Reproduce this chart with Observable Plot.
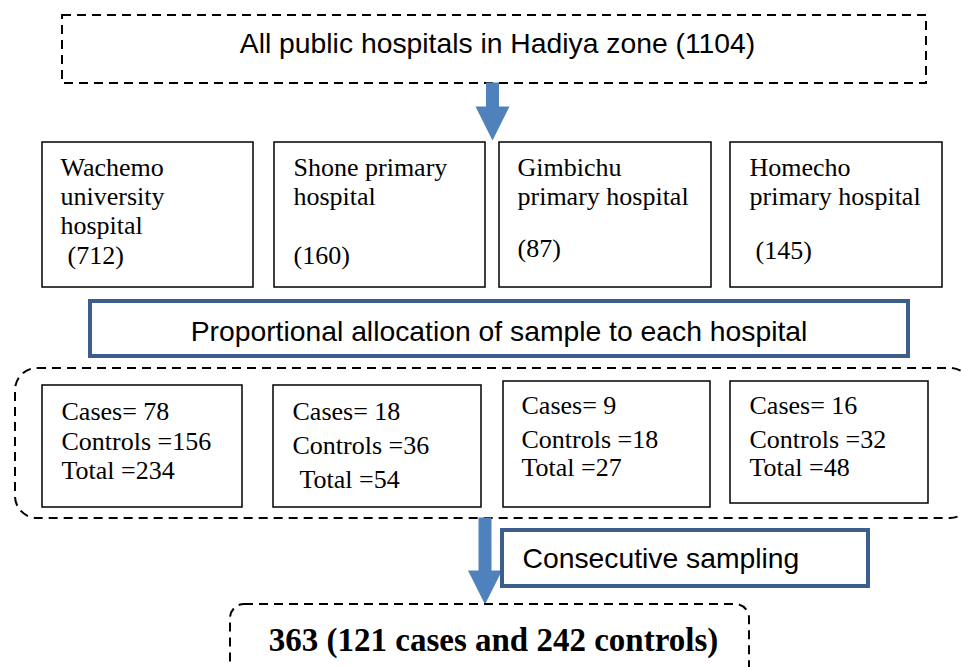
<!DOCTYPE html>
<html>
<head>
<meta charset="utf-8">
<script src="https://cdn.jsdelivr.net/npm/d3@7"></script>
<script src="https://cdn.jsdelivr.net/npm/@observablehq/plot@0.6"></script>
<style>
  html, body { margin: 0; padding: 0; background: white; overflow: hidden; }
  #chart svg { display: block; }
</style>
</head>
<body>
<div id="chart"></div>
<script>
// ---------- data ----------
const zoneName = "Hadiya zone";
const zonePopulation = 1104;
const hospitalNameLines = [
  ["Wachemo", "university", "hospital"],
  ["Shone primary", "hospital"],
  ["Gimbichu", "primary hospital"],
  ["Homecho", "primary hospital"]
];
const hospitalPopulations = [712, 160, 87, 145];
const allocationLabel = "Proportional allocation of sample to each hospital";
const cases = [78, 18, 9, 16];
const controls = [156, 36, 18, 32];
const totals = [234, 54, 27, 48];
const samplingLabel = "Consecutive sampling";
const finalTotal = 363;
const finalCases = 121;
const finalControls = 242;

// ---------- layout (pixels) ----------
const W = 962, H = 667;
const hospBoxX1 = [42, 274, 499, 730];
const hospBoxX2 = [253, 485, 711, 942];
const hospBoxY1 = 142, hospBoxY2 = 287;
const hospTextX = [60, 293, 517, 749];
const hospPopX = [67, 293, 517, 755];
const hospPopY = [263, 263, 256, 258];
const nameBaseY = 175, lineStep = 29;

const sampBoxX1 = [42, 273, 503, 730];
const sampBoxX2 = [242, 481, 710, 928];
const sampBoxY1 = [385, 385, 381, 381];
const sampBoxY2 = [507, 507, 507, 503];
const sampTextX = [61, 292, 521, 749];
const sampTotalX = [61, 299, 521, 749];
const casesY = [419, 419, 413, 413];
const controlsY = [449, 453, 447, 447];
const totalsY = [478, 487, 475, 475];

const blue = "#4f81bd";
const darkBlue = "#3b5e8c";
const serif = "Liberation Serif, Times New Roman, serif";
const sans = "Liberation Sans, Arial, sans-serif";

// build tables
const hospBoxes = hospitalPopulations.map((p, i) => ({x1: hospBoxX1[i], x2: hospBoxX2[i], y1: hospBoxY1, y2: hospBoxY2}));
const hospTexts = [];
hospitalNameLines.forEach((lines, i) => {
  lines.forEach((t, j) => hospTexts.push({x: hospTextX[i], y: nameBaseY + j * lineStep, text: t}));
  hospTexts.push({x: hospPopX[i], y: hospPopY[i], text: `(${hospitalPopulations[i]})`});
});
const sampBoxes = cases.map((c, i) => ({x1: sampBoxX1[i], x2: sampBoxX2[i], y1: sampBoxY1[i], y2: sampBoxY2[i]}));
const sampTexts = [];
cases.forEach((c, i) => {
  sampTexts.push({x: sampTextX[i], y: casesY[i], text: `Cases= ${c}`});
  sampTexts.push({x: sampTextX[i], y: controlsY[i], text: `Controls =${controls[i]}`});
  sampTexts.push({x: sampTotalX[i], y: totalsY[i], text: `Total =${totals[i]}`});
});

function arrow(cx, yTop, yNeck, yTip, shaftHalf, headHalf) {
  return [
    [cx - shaftHalf, yTop], [cx + shaftHalf, yTop], [cx + shaftHalf, yNeck],
    [cx + headHalf, yNeck], [cx, yTip], [cx - headHalf, yNeck],
    [cx - shaftHalf, yNeck], [cx - shaftHalf, yTop]
  ];
}
const arrow1 = arrow(492, 82, 106, 140, 6.5, 17);
const arrow2 = arrow(484.5, 517, 570, 604, 6.5, 17);

const dash = "9,6";

const chart = Plot.plot({
  width: W, height: H,
  margin: 0,
  x: {domain: [0, W], range: [0, W], axis: null},
  y: {domain: [0, H], range: [0, H], axis: null},
  style: {background: "white"},
  marks: [
    // top dashed box
    Plot.rect([{x1: 62, x2: 926, y1: 15, y2: 83}], {x1: "x1", x2: "x2", y1: "y1", y2: "y2", fill: "none", stroke: "black", strokeWidth: 2, strokeDasharray: dash}),
    Plot.text([`All public hospitals in ${zoneName} (${zonePopulation})`], {x: 497, y: 52, text: d => d, fontFamily: sans, fontSize: 28.3, fill: "black", lineAnchor: "bottom", textAnchor: "middle"}),
    // arrow 1
    Plot.line(arrow1, {x: "0", y: "1", fill: blue, stroke: "none"}),
    // hospital boxes
    Plot.rect(hospBoxes, {x1: "x1", x2: "x2", y1: "y1", y2: "y2", fill: "none", stroke: "black", strokeWidth: 1.5}),
    Plot.text(hospTexts, {x: "x", y: "y", text: "text", fontFamily: serif, fontSize: 26, fill: "black", textAnchor: "start", lineAnchor: "bottom"}),
    // allocation box
    Plot.rect([{x1: 90, x2: 908, y1: 301, y2: 356}], {x1: "x1", x2: "x2", y1: "y1", y2: "y2", fill: "white", stroke: darkBlue, strokeWidth: 4}),
    Plot.text([allocationLabel], {x: 498.5, y: 340, text: d => d, fontFamily: sans, fontSize: 28.3, fill: "black", lineAnchor: "bottom", textAnchor: "middle"}),
    // dashed group
    Plot.rect([{x1: 15, x2: 972, y1: 368, y2: 518}], {x1: "x1", x2: "x2", y1: "y1", y2: "y2", fill: "none", stroke: "black", strokeWidth: 2, strokeDasharray: dash, rx: 22}),
    Plot.rect(sampBoxes, {x1: "x1", x2: "x2", y1: "y1", y2: "y2", fill: "none", stroke: "black", strokeWidth: 1.5}),
    Plot.text(sampTexts, {x: "x", y: "y", text: "text", fontFamily: serif, fontSize: 26, fill: "black", textAnchor: "start", lineAnchor: "bottom"}),
    // arrow 2
    Plot.line(arrow2, {x: "0", y: "1", fill: blue, stroke: "none"}),
    // consecutive sampling box
    Plot.rect([{x1: 502, x2: 868, y1: 530, y2: 586}], {x1: "x1", x2: "x2", y1: "y1", y2: "y2", fill: "white", stroke: darkBlue, strokeWidth: 4}),
    Plot.text([samplingLabel], {x: 522, y: 567, text: d => d, fontFamily: sans, fontSize: 28.3, fill: "black", lineAnchor: "bottom", textAnchor: "start"}),
    // final dashed box
    Plot.rect([{x1: 230, x2: 749, y1: 604, y2: 700}], {x1: "x1", x2: "x2", y1: "y1", y2: "y2", fill: "none", stroke: "black", strokeWidth: 2, strokeDasharray: dash, rx: 14}),
    Plot.text([`${finalTotal} (${finalCases} cases and ${finalControls} controls)`], {x: 493, y: 650, text: d => d, fontFamily: serif, fontSize: 33, fontWeight: "bold", fill: "black", lineAnchor: "bottom", textAnchor: "middle"})
  ]
});
document.getElementById("chart").appendChild(chart);
</script>
</body>
</html>
